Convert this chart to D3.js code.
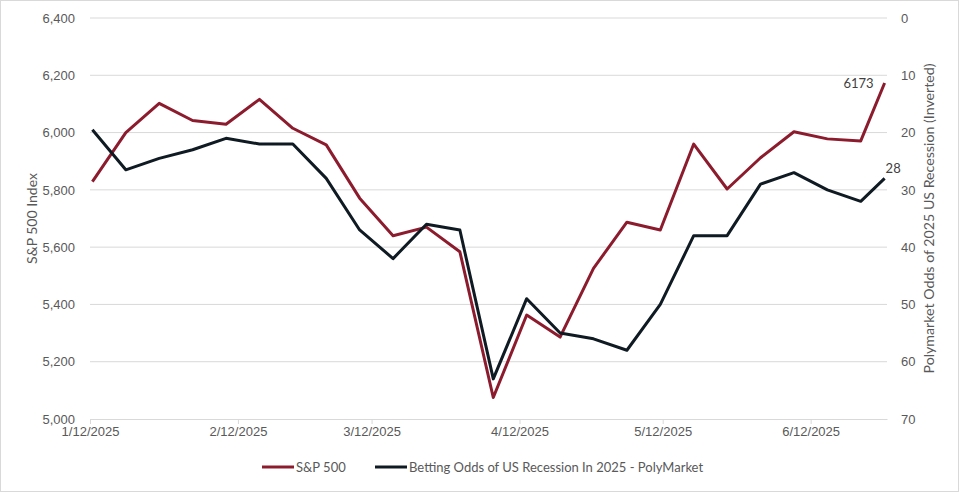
<!DOCTYPE html>
<html>
<head>
<meta charset="utf-8">
<script src="https://cdn.jsdelivr.net/npm/d3@7"></script>
<style>
	body { margin: 0; background: #fff; }
	svg { font-family: Lato, 'Open Sans', sans-serif; }
</style>
</head>
<body>
<div id="chart"><svg width="959" height="492"></svg></div>
<script>
// weekly observations, last one is a partial week
const dates = [
	'2025-01-12', '2025-01-19', '2025-01-26', '2025-02-02', '2025-02-09',
	'2025-02-16', '2025-02-23', '2025-03-02', '2025-03-09', '2025-03-16',
	'2025-03-23', '2025-03-30', '2025-04-06', '2025-04-13', '2025-04-20',
	'2025-04-27', '2025-05-04', '2025-05-11', '2025-05-18', '2025-05-25',
	'2025-06-01', '2025-06-08', '2025-06-15', '2025-06-22', '2025-06-27'
];
const spx = [
	5829, 6000, 6102, 6042, 6029, 6116, 6015, 5957, 5771, 5640,
	5670, 5584, 5075, 5363, 5286, 5526, 5687, 5660, 5960, 5803,
	5912, 6003, 5978, 5971, 6173
];
const recessionOdds = [
	19.5, 26.5, 24.5, 23, 21, 22, 22, 28, 37, 42,
	36, 37, 63, 49, 55, 56, 58, 50, 38, 38,
	29, 27, 30, 32, 28
];
const monthTicks = ['2025-01-12', '2025-02-12', '2025-03-12', '2025-04-12', '2025-05-12', '2025-06-12'];
const leftTicks = [5000, 5200, 5400, 5600, 5800, 6000, 6200, 6400];
const rightTicks = [0, 10, 20, 30, 40, 50, 60, 70];

const RED = '#8c1c2d';
const NAVY = '#0f1a23';
const GREY = '#595959';

const parse = d3.timeParse('%Y-%m-%d');
const svg = d3.select('#chart svg');
const margin = { top: 18, right: 72, bottom: 73, left: 90 };
const width = +svg.attr('width') - margin.left - margin.right;
const height = +svg.attr('height') - margin.top - margin.bottom;

svg.append('rect')
	.attr('x', 0.5).attr('y', 0.5)
	.attr('width', 958).attr('height', 491)
	.attr('fill', 'none').attr('stroke', '#d9d9d9');

const g = svg.append('g')
	.attr('transform', 'translate(' + margin.left + ',' + margin.top + ')');

const x = d3.scaleTime()
	.domain([parse('2025-01-12'), parse('2025-06-28')])
	.range([0, width]);
const yL = d3.scaleLinear().domain([5000, 6400]).range([height, 0]);
const yR = d3.scaleLinear().domain([0, 70]).range([0, height]);

// excel puts each point in the middle of its day slot
const px = d => x(d3.timeHour.offset(parse(d), 12));

// gridlines
g.append('g')
	.selectAll('line')
	.data(leftTicks.slice(1))
	.enter()
	.append('line')
	.attr('x1', 0).attr('x2', width)
	.attr('y1', d => yL(d)).attr('y2', d => yL(d))
	.attr('stroke', '#d9d9d9').attr('stroke-width', 1);

// x axis
const xAxis = g.append('g')
	.attr('transform', 'translate(0,' + height + ')')
	.call(d3.axisBottom(x)
		.tickValues(monthTicks.map(parse))
		.tickFormat(d3.timeFormat('%-m/%-d/%Y'))
		.tickSize(5)
		.tickSizeOuter(0));
xAxis.select('.domain').attr('stroke', '#d9d9d9');
xAxis.selectAll('.tick line').attr('stroke', '#d9d9d9');
xAxis.selectAll('text')
	.attr('fill', GREY).attr('dy', '0.3em').attr('y', 13)
	.style('font-size', '13px');

// left axis
const left = g.append('g')
	.call(d3.axisLeft(yL).tickValues(leftTicks).tickFormat(d3.format(',')).tickSize(0).tickPadding(15));
left.select('.domain').remove();
left.selectAll('text').attr('fill', GREY).style('font-size', '13px');

// right axis
const right = g.append('g')
	.attr('transform', 'translate(' + width + ',0)')
	.call(d3.axisRight(yR).tickValues(rightTicks).tickSize(0).tickPadding(14));
right.select('.domain').remove();
right.selectAll('text').attr('fill', GREY).style('font-size', '13px');

// axis titles
svg.append('text')
	.attr('transform', 'translate(37,' + (margin.top + height / 2) + ') rotate(-90)')
	.attr('text-anchor', 'middle')
	.attr('fill', GREY)
	.style('font-size', '14px')
	.text('S&P 500 Index');

svg.append('text')
	.attr('transform', 'translate(934,' + (margin.top + height / 2) + ') rotate(-90)')
	.attr('text-anchor', 'middle')
	.attr('fill', GREY)
	.style('font-size', '14.2px')
	.text('Polymarket Odds of 2025 US Recession (Inverted)');

// lines
const spxLine = d3.line()
	.x((d, i) => px(dates[i]))
	.y(d => yL(d));
const oddsLine = d3.line()
	.x((d, i) => px(dates[i]))
	.y(d => yR(d));

g.append('path')
	.datum(spx)
	.attr('d', spxLine)
	.attr('fill', 'none').attr('stroke', RED)
	.attr('stroke-width', 3).attr('stroke-linejoin', 'round');

g.append('path')
	.datum(recessionOdds)
	.attr('d', oddsLine)
	.attr('fill', 'none').attr('stroke', NAVY)
	.attr('stroke-width', 3).attr('stroke-linejoin', 'round');

// end labels
const last = dates.length - 1;
g.append('text')
	.attr('x', px(dates[last]) - 11)
	.attr('y', yL(spx[last]))
	.attr('dy', '0.35em')
	.attr('text-anchor', 'end')
	.attr('fill', '#404040')
	.style('font-size', '13px')
	.text(spx[last]);

g.append('text')
	.attr('x', px(dates[last]) + 1)
	.attr('y', yR(recessionOdds[last]) - 10)
	.attr('dy', '0.35em')
	.attr('fill', '#404040')
	.style('font-size', '13px')
	.text(recessionOdds[last]);

// legend
const legendItems = [
	{ label: 'S&P 500', color: RED, x: 262 },
	{ label: 'Betting Odds of US Recession In 2025 - PolyMarket', color: NAVY, x: 375 }
];
const legend = svg.append('g').attr('transform', 'translate(0,467)');
legendItems.forEach(item => {
	legend.append('line')
		.attr('x1', item.x).attr('x2', item.x + 32)
		.attr('y1', 0).attr('y2', 0)
		.attr('stroke', item.color).attr('stroke-width', 3);
	legend.append('text')
		.attr('x', item.x + 34)
		.attr('dy', '0.35em')
		.attr('fill', GREY)
		.style('font-size', '13px')
		.text(item.label);
});
</script>
</body>
</html>
